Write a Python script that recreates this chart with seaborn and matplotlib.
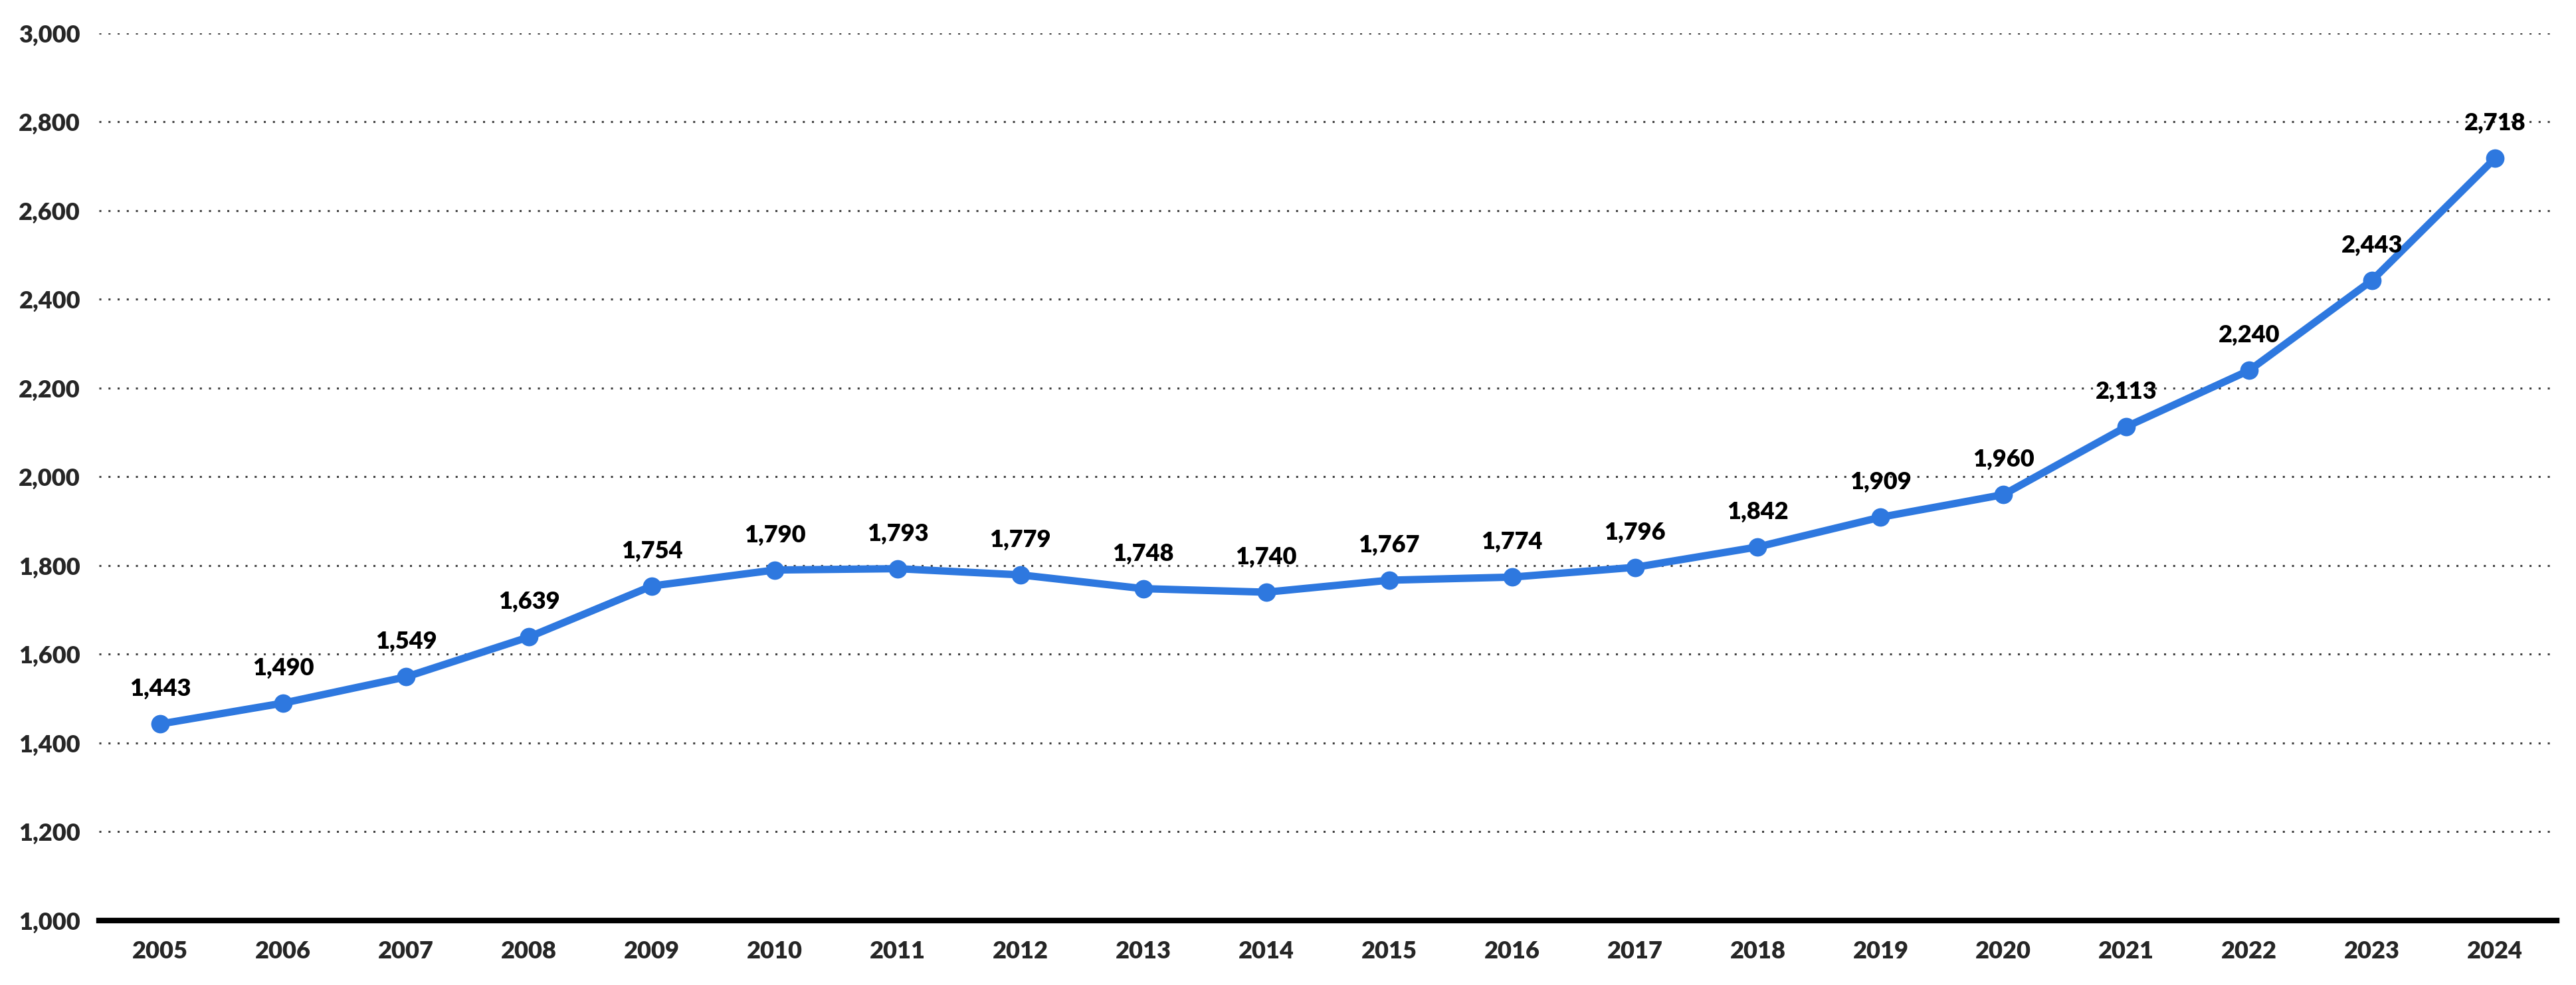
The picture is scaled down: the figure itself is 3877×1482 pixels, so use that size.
import numpy as np
import pandas as pd
import seaborn as sns
import matplotlib.pyplot as plt
from matplotlib.ticker import FuncFormatter

years = [str(y) for y in range(2005, 2025)]
values = [1443, 1490, 1549, 1639, 1754, 1790, 1793, 1779, 1748, 1740,
          1767, 1774, 1796, 1842, 1909, 1960, 2113, 2240, 2443, 2718]
y_ticks = list(range(1000, 3001, 200))

sns.set_theme(style="white")
plt.rcParams["font.family"] = ["Lato", "DejaVu Sans"]

df = pd.DataFrame({"Year": years, "Value": values})

fig = plt.figure(figsize=(38.77, 14.82), dpi=100)
ax = fig.add_axes([0.0384, 0.0655, 0.954, 0.9008])

line_color = "#2E78DF"
sns.lineplot(data=df, x="Year", y="Value", ax=ax, color=line_color,
             linewidth=8, marker="o", markersize=20, markeredgewidth=0,
             sort=False)

for i, v in enumerate(values):
    ax.annotate(f"{v:,}", (i, v), xytext=(0, 38), textcoords="offset points",
                ha="center", va="center", fontsize=26, fontweight="heavy",
                color="black")

ax.set_xlim(-0.5, len(years) - 0.5)
ax.set_ylim(1000, 3000)
ax.set_yticks(y_ticks)
ax.yaxis.set_major_formatter(FuncFormatter(lambda v, p: f"{int(v):,}"))
ax.grid(axis="y", color="#404040", linestyle=(0, (1, 3.5)), linewidth=2.2)
ax.grid(axis="x", visible=False)
ax.set_axisbelow(True)

for s in ["top", "right", "left"]:
    ax.spines[s].set_visible(False)
ax.spines["bottom"].set_color("black")
ax.spines["bottom"].set_linewidth(6)

ax.tick_params(axis="y", length=0, pad=20, labelsize=26)
ax.tick_params(axis="x", length=0, pad=22, labelsize=26)
for lab in ax.get_xticklabels() + ax.get_yticklabels():
    lab.set_fontweight("heavy")
ax.set_xlabel("")
ax.set_ylabel("")

fig.savefig("out.png", dpi=100, facecolor="white")
